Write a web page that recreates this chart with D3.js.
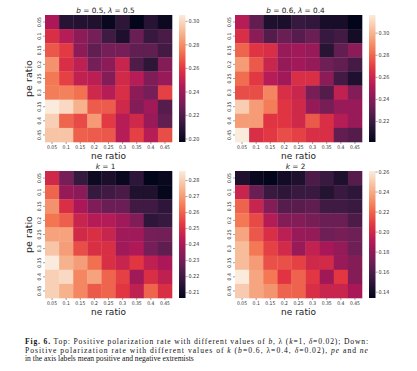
<!DOCTYPE html>
<html>
<head>
<meta charset="utf-8">
<script src="https://cdn.jsdelivr.net/npm/d3@7"></script>
<style>
  body { margin: 0; background: #fff; }
  svg { display: block; }
</style>
</head>
<body>
<script>
// categories
const neRatios = ["0.05", "0.1", "0.15", "0.2", "0.25", "0.3", "0.35", "0.4", "0.45"];
const peRatios = ["0.05", "0.1", "0.15", "0.2", "0.25", "0.3", "0.35", "0.4", "0.45"];

// rows = pe ratio (top to bottom), columns = ne ratio
const rateB05 = [
  [0.243, 0.208, 0.207, 0.206, 0.199, 0.210, 0.197, 0.208, 0.200],
  [0.256, 0.246, 0.235, 0.229, 0.215, 0.205, 0.226, 0.213, 0.218],
  [0.267, 0.260, 0.235, 0.224, 0.229, 0.229, 0.224, 0.224, 0.216],
  [0.281, 0.256, 0.248, 0.229, 0.235, 0.251, 0.219, 0.210, 0.233],
  [0.275, 0.262, 0.249, 0.247, 0.233, 0.254, 0.246, 0.232, 0.238],
  [0.276, 0.277, 0.273, 0.253, 0.246, 0.256, 0.235, 0.229, 0.262],
  [0.305, 0.300, 0.289, 0.268, 0.268, 0.253, 0.233, 0.240, 0.221],
  [0.297, 0.270, 0.264, 0.283, 0.260, 0.246, 0.253, 0.238, 0.224],
  [0.294, 0.294, 0.269, 0.268, 0.267, 0.246, 0.262, 0.246, 0.265]
];
const rateB06 = [
  [0.253, 0.230, 0.210, 0.209, 0.218, 0.216, 0.208, 0.208, 0.201],
  [0.264, 0.241, 0.226, 0.232, 0.227, 0.232, 0.218, 0.221, 0.207],
  [0.279, 0.267, 0.264, 0.245, 0.247, 0.245, 0.213, 0.230, 0.241],
  [0.293, 0.276, 0.259, 0.244, 0.247, 0.244, 0.233, 0.230, 0.222],
  [0.281, 0.268, 0.253, 0.247, 0.264, 0.264, 0.241, 0.221, 0.210],
  [0.273, 0.273, 0.287, 0.264, 0.259, 0.236, 0.226, 0.256, 0.239],
  [0.307, 0.293, 0.285, 0.267, 0.261, 0.244, 0.236, 0.245, 0.245],
  [0.293, 0.293, 0.267, 0.267, 0.261, 0.276, 0.264, 0.253, 0.245],
  [0.316, 0.264, 0.268, 0.273, 0.270, 0.264, 0.264, 0.230, 0.226]
];
const rateK1 = [
  [0.2476, 0.230, 0.218, 0.209, 0.212, 0.208, 0.216, 0.2064, 0.208],
  [0.260, 0.236, 0.234, 0.218, 0.220, 0.222, 0.213, 0.213, 0.207],
  [0.268, 0.250, 0.240, 0.232, 0.228, 0.228, 0.220, 0.220, 0.216],
  [0.263, 0.259, 0.246, 0.242, 0.242, 0.238, 0.232, 0.216, 0.218],
  [0.271, 0.271, 0.248, 0.250, 0.246, 0.238, 0.238, 0.230, 0.229],
  [0.278, 0.270, 0.256, 0.250, 0.250, 0.238, 0.241, 0.230, 0.226],
  [0.2856, 0.274, 0.270, 0.262, 0.250, 0.246, 0.252, 0.244, 0.240],
  [0.280, 0.282, 0.266, 0.271, 0.260, 0.254, 0.238, 0.250, 0.244],
  [0.280, 0.274, 0.266, 0.258, 0.260, 0.252, 0.244, 0.260, 0.250]
];
const rateK2 = [
  [0.144, 0.136, 0.1337, 0.140, 0.144, 0.159, 0.153, 0.144, 0.162],
  [0.197, 0.168, 0.153, 0.149, 0.153, 0.153, 0.146, 0.153, 0.149],
  [0.219, 0.197, 0.176, 0.162, 0.163, 0.165, 0.155, 0.155, 0.153],
  [0.225, 0.212, 0.191, 0.176, 0.176, 0.172, 0.168, 0.168, 0.159],
  [0.238, 0.216, 0.203, 0.193, 0.182, 0.181, 0.169, 0.172, 0.169],
  [0.245, 0.225, 0.210, 0.201, 0.182, 0.195, 0.187, 0.181, 0.169],
  [0.245, 0.235, 0.214, 0.214, 0.210, 0.200, 0.201, 0.182, 0.176],
  [0.2605, 0.238, 0.225, 0.206, 0.219, 0.207, 0.184, 0.207, 0.176],
  [0.250, 0.238, 0.233, 0.219, 0.219, 0.203, 0.197, 0.197, 0.187]
];

// colorbar tick labels
const ticksB05 = [0.20, 0.22, 0.24, 0.26, 0.28, 0.30];
const ticksB06 = [0.22, 0.24, 0.26, 0.28, 0.30];
const ticksK1 = [0.21, 0.22, 0.23, 0.24, 0.25, 0.26, 0.27, 0.28];
const ticksK2 = [0.14, 0.16, 0.18, 0.20, 0.22, 0.24, 0.26];

// seaborn "rocket"-like ramp
const rocket = d3.piecewise(d3.interpolateRgb, [
  "#03051a", "#35193e", "#701f57", "#ad1759", "#e13342", "#f37651", "#f6b48f", "#faebdd"
]);

const svg = d3.select("body").append("svg")
  .attr("width", 417)
  .attr("height", 371);

const defs = svg.append("defs");
const tickFont = "'DejaVu Sans Condensed', 'DejaVu Sans', sans-serif";

// panels: where each heatmap sits
const panels = [
  {id: "a", values: rateB05, ticks: ticksB05, title: ["b", " = 0.5, ", "λ", " = 0.5"], x: 45, y: 15, yLabel: true},
  {id: "b", values: rateB06, ticks: ticksB06, title: ["b", " = 0.6, ", "λ", " = 0.4"], x: 235, y: 15, yLabel: false},
  {id: "c", values: rateK1, ticks: ticksK1, title: ["k", " = 1"], x: 45, y: 171, yLabel: true},
  {id: "d", values: rateK2, ticks: ticksK2, title: ["k", " = 2"], x: 235, y: 171, yLabel: false}
];
const size = 127;

const drawPanel = (p) => {
  const g = svg.append("g").attr("transform", `translate(${p.x}, ${p.y})`);

  const x = d3.scaleBand().domain(neRatios).range([0, size]);
  const y = d3.scaleBand().domain(peRatios).range([0, size]);
  const flat = p.values.flat();
  const color = d3.scaleSequential(rocket).domain(d3.extent(flat));

  const cells = [];
  p.values.forEach((row, i) => row.forEach((v, j) => cells.push({pe: peRatios[i], ne: neRatios[j], v: v})));

  g.selectAll(".cell")
    .data(cells)
    .join("rect")
    .attr("class", "cell")
    .attr("x", d => x(d.ne))
    .attr("y", d => y(d.pe))
    .attr("width", x.bandwidth() + 0.3)
    .attr("height", y.bandwidth() + 0.3)
    .attr("fill", d => color(d.v));

  // x axis
  const xAxis = g.append("g")
    .attr("transform", `translate(0, ${size})`)
    .call(d3.axisBottom(x).tickSize(2).tickPadding(1.5));
  xAxis.select(".domain").remove();
  xAxis.selectAll("line").attr("stroke", "#444").attr("stroke-width", 0.5);
  xAxis.selectAll("text")
    .attr("font-family", tickFont)
    .attr("font-size", 5)
    .attr("fill", "#333");

  // y axis, labels rotated
  const yAxis = g.append("g")
    .call(d3.axisLeft(y).tickSize(2).tickPadding(1.5));
  yAxis.select(".domain").remove();
  yAxis.selectAll("line").attr("stroke", "#444").attr("stroke-width", 0.5);
  yAxis.selectAll("text")
    .attr("font-family", tickFont)
    .attr("font-size", 5)
    .attr("fill", "#333")
    .attr("text-anchor", "middle")
    .attr("dy", 0)
    .attr("x", 0)
    .attr("transform", "translate(-4.5, 0) rotate(-90)");

  g.append("text")
    .attr("x", size / 2)
    .attr("y", size + 17)
    .attr("text-anchor", "middle")
    .attr("font-family", "DejaVu Sans")
    .attr("font-size", 9)
    .attr("fill", "#222")
    .text("ne ratio");

  if (p.yLabel) {
    g.append("text")
      .attr("transform", `translate(-13, ${size / 2}) rotate(-90)`)
      .attr("text-anchor", "middle")
      .attr("font-family", "DejaVu Sans")
      .attr("font-size", 9.5)
      .attr("fill", "#222")
      .text("pe ratio");
  }

  // title with italic math letters
  const t = g.append("text")
    .attr("x", size / 2 - 3)
    .attr("y", -2.5)
    .attr("text-anchor", "middle")
    .attr("font-family", "DejaVu Sans")
    .attr("font-size", 7.3)
    .attr("fill", "#222");
  p.title.forEach((s, i) => {
    t.append("tspan").attr("font-style", i % 2 === 0 ? "italic" : "normal").text(s);
  });

  // colorbar
  const cbX = size + 7;
  const cbW = 6.5;
  const grad = defs.append("linearGradient")
    .attr("id", "grad-" + p.id)
    .attr("x1", 0).attr("y1", 1).attr("x2", 0).attr("y2", 0);
  d3.range(0, 1.0001, 0.05).forEach(s => {
    grad.append("stop").attr("offset", s).attr("stop-color", rocket(s));
  });
  g.append("rect")
    .attr("x", cbX)
    .attr("y", 0)
    .attr("width", cbW)
    .attr("height", size)
    .attr("fill", `url(#grad-${p.id})`);

  const cbScale = d3.scaleLinear().domain(color.domain()).range([size, 0]);
  const cbAxis = g.append("g")
    .attr("transform", `translate(${cbX + cbW}, 0)`)
    .call(d3.axisRight(cbScale).tickValues(p.ticks).tickFormat(d3.format(".2f")).tickSize(2).tickPadding(1));
  cbAxis.select(".domain").remove();
  cbAxis.selectAll("line").attr("stroke", "#444").attr("stroke-width", 0.5);
  cbAxis.selectAll("text")
    .attr("font-family", tickFont)
    .attr("font-size", 5.4)
    .attr("fill", "#333");
};

panels.forEach(drawPanel);

// caption
const caption = [
  [{t: "Fig. 6.", b: true}, {t: " Top: Positive polarization rate with different values of "}, {t: "b", i: true},
   {t: ", λ ("}, {t: "k", i: true}, {t: "=1, "}, {t: "δ", i: true}, {t: "=0.02); Down:"}],
  [{t: "Positive polarization rate with different values of "}, {t: "k", i: true}, {t: " ("}, {t: "b", i: true},
   {t: "=0.6, λ=0.4, "}, {t: "δ", i: true}, {t: "=0.02), "}, {t: "pe", i: true}, {t: " and "}, {t: "ne", i: true}],
  [{t: "in the axis labels mean positive and negative extremists"}]
];
const capY = [344, 352.5, 361];
caption.forEach((line, li) => {
  const txt = svg.append("text")
    .attr("x", 25)
    .attr("y", capY[li])
    .attr("font-family", "Liberation Serif")
    .attr("font-size", 7.6)
    .attr("fill", "#111");
  if (li < 2) txt.attr("textLength", 343).attr("lengthAdjust", "spacing");
  line.forEach(s => {
    txt.append("tspan")
      .attr("font-weight", s.b ? "bold" : "normal")
      .attr("font-style", s.i ? "italic" : "normal")
      .text(s.t);
  });
});
</script>
</body>
</html>
